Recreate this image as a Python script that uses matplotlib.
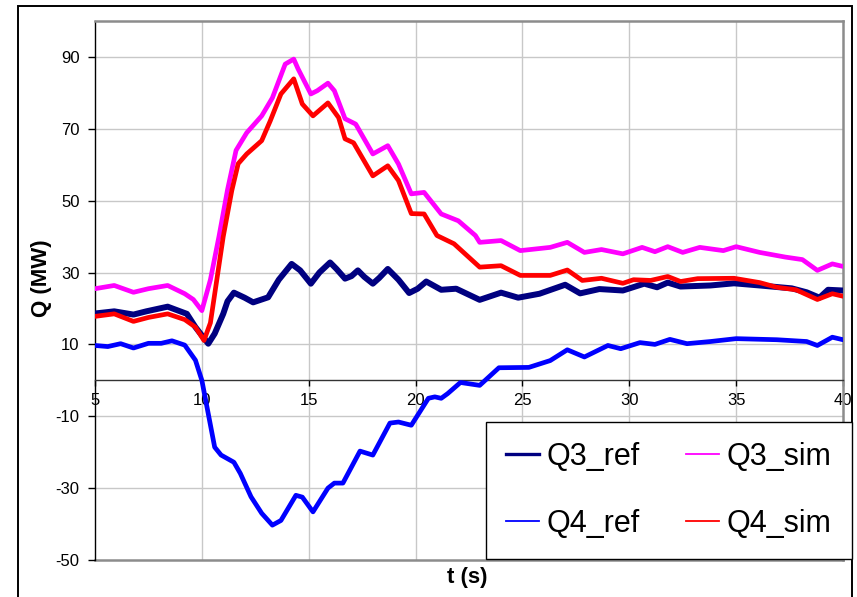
import matplotlib
matplotlib.use("Agg")
import matplotlib.pyplot as plt
from matplotlib.lines import Line2D
from matplotlib.patches import Rectangle

plt.rcParams['font.family'] = ['Liberation Sans', 'DejaVu Sans']

# Reactive power traces (time in s, Q in MW)
t_q3_ref = [5.0, 5.9, 6.8, 7.4, 8.4, 9.3, 9.7, 10.3, 10.6, 11.0, 11.2, 11.5, 12.0, 12.4,
            13.1, 13.6, 14.2, 14.6, 15.1, 15.5, 16.0, 16.3, 16.7, 17.0, 17.3, 17.6, 18.0,
            18.3, 18.7, 19.2, 19.7, 20.1, 20.5, 21.2, 21.9, 23.0, 24.0, 24.8, 25.8, 27.0,
            27.7, 28.6, 29.7, 30.7, 31.3, 31.8, 32.4, 33.8, 34.9, 36.1, 37.6, 38.3, 38.9,
            39.3, 40.0]
q3_ref = [18.6, 19.2, 18.3, 19.2, 20.5, 18.5, 14.8, 10.2, 13.0, 18.5, 22.0, 24.4, 23.0, 21.7,
          23.1, 28.0, 32.4, 30.6, 26.9, 30.0, 32.8, 31.0, 28.3, 29.0, 30.6, 28.8, 26.9,
          28.5, 31.0, 28.0, 24.3, 25.5, 27.5, 25.2, 25.5, 22.4, 24.4, 23.0, 24.1, 26.6,
          24.2, 25.4, 25.0, 26.9, 25.9, 27.2, 26.1, 26.4, 27.0, 26.4, 25.6, 24.5, 23.0,
          25.2, 25.0]

t_q4_ref = [5.0, 5.6, 6.2, 6.8, 7.5, 8.1, 8.6, 9.2, 9.7, 10.0, 10.3, 10.6, 10.9, 11.5, 11.8,
            12.3, 12.8, 13.3, 13.7, 14.4, 14.7, 15.2, 15.9, 16.2, 16.6, 17.4, 18.0, 18.8,
            19.2, 19.8, 20.6, 20.9, 21.2, 21.5, 22.1, 23.0, 23.9, 25.3, 26.3, 27.1, 27.9,
            29.0, 29.6, 30.5, 31.2, 31.9, 32.7, 33.8, 35.0, 36.9, 38.3, 38.8, 39.5, 40.0]
q4_ref = [9.7, 9.4, 10.2, 9.0, 10.3, 10.3, 11.0, 9.8, 5.6, 0.0, -9.3, -18.6, -20.8, -22.8, -25.9,
          -32.4, -37.0, -40.3, -39.0, -32.0, -32.5, -36.6, -30.0, -28.6, -28.6, -19.7, -20.8, -11.9,
          -11.6, -12.5, -5.0, -4.6, -5.0, -3.7, -0.6, -1.4, 3.5, 3.6, 5.5, 8.5, 6.5,
          9.7, 8.8, 10.5, 10.0, 11.4, 10.2, 10.8, 11.6, 11.3, 10.8, 9.7, 12.0, 11.3]

t_q3_sim = [5.0, 5.9, 6.8, 7.5, 8.4, 9.2, 9.6, 10.0, 10.4, 10.8, 11.2, 11.6, 12.1, 12.8, 13.3,
            13.9, 14.3, 14.5, 15.1, 15.4, 15.9, 16.2, 16.7, 17.2, 18.0, 18.7, 19.2, 19.8,
            20.4, 21.2, 22.0, 22.8, 23.0, 24.0, 24.9, 26.3, 27.1, 27.9, 28.7, 29.7, 30.6,
            31.2, 31.8, 32.5, 33.3, 34.4, 35.0, 36.1, 37.3, 38.1, 38.8, 39.5, 40.0]
q3_sim = [25.5, 26.4, 24.5, 25.5, 26.4, 24.1, 22.5, 19.4, 28.0, 40.0, 53.0, 64.0, 68.9, 73.6, 78.6,
          88.0, 89.4, 86.7, 79.7, 80.6, 82.7, 80.6, 72.8, 71.3, 63.0, 65.3, 60.2, 51.9,
          52.3, 46.3, 44.4, 40.3, 38.4, 38.9, 36.1, 37.0, 38.4, 35.6, 36.4, 35.2, 37.0,
          35.8, 37.2, 35.6, 37.0, 36.1, 37.2, 35.6, 34.3, 33.6, 30.6, 32.4, 31.7]

t_q4_sim = [5.0, 5.9, 6.8, 7.5, 8.4, 9.2, 9.7, 10.1, 10.4, 10.7, 11.0, 11.4, 11.7, 12.1, 12.8,
            13.2, 13.7, 14.3, 14.7, 15.2, 15.9, 16.4, 16.7, 17.1, 18.0, 18.7, 19.2, 19.8,
            20.4, 21.0, 21.8, 23.0, 24.0, 24.9, 26.3, 27.1, 27.8, 28.7, 29.7, 30.2, 31.0,
            31.8, 32.4, 33.2, 34.9, 36.1, 36.9, 37.8, 38.8, 39.5, 40.0]
q4_sim = [17.8, 18.5, 16.4, 17.5, 18.5, 16.9, 14.8, 11.1, 16.0, 28.0, 40.0, 52.8, 60.3, 63.0, 66.7,
          72.2, 79.7, 83.9, 76.9, 73.6, 77.2, 73.1, 67.2, 66.1, 56.9, 59.7, 55.6, 46.4,
          46.3, 40.3, 38.0, 31.5, 31.9, 29.2, 29.2, 30.7, 27.8, 28.4, 27.0, 28.0, 27.8,
          28.9, 27.5, 28.3, 28.4, 27.2, 25.9, 25.2, 22.5, 24.1, 23.4]

x_ticks = [5, 10, 15, 20, 25, 30, 35, 40]
y_ticks = [90, 70, 50, 30, 10, -10, -30, -50]
series_labels = ['Q3_ref', 'Q4_ref', 'Q3_sim', 'Q4_sim']

W, H = 857, 597
fig = plt.figure(figsize=(W / 100, H / 100), dpi=100)
ax = fig.add_axes([95 / W, 1 - 560 / H, (843 - 95) / W, (560 - 21) / H])

# outer chart border
fig.patches.append(Rectangle((18 / W, -0.02), (852 - 18) / W, 1 - 6 / H + 0.02,
                             transform=fig.transFigure, fill=False,
                             edgecolor='black', linewidth=1.4, zorder=0))

ax.set_xlim(5, 40)
ax.set_ylim(-50, 100)

grid_c = '#c8c8c8'
for yv in y_ticks[:-1]:
    ax.axhline(yv, color=grid_c, lw=1.0, zorder=0)
for xv in x_ticks[1:-1]:
    ax.axvline(xv, color=grid_c, lw=1.0, zorder=0)

style = dict(solid_joinstyle='round', solid_capstyle='round', zorder=3)
ax.plot(t_q3_ref, q3_ref, color='#000080', lw=4.3, **style)
ax.plot(t_q4_ref, q4_ref, color='#0000ff', lw=3.4, **style)
ax.plot(t_q3_sim, q3_sim, color='#ff00ff', lw=3.4, **style)
ax.plot(t_q4_sim, q4_sim, color='#ff0000', lw=3.4, **style)

# spines: x axis crosses at zero
ax.spines['bottom'].set_position(('data', 0))
ax.spines['bottom'].set_color('#333333')
ax.spines['bottom'].set_linewidth(1.0)
ax.spines['left'].set_color('black')
ax.spines['left'].set_linewidth(1.0)
for s in ('top', 'right'):
    ax.spines[s].set_color('#8c8c8c')
    ax.spines[s].set_linewidth(1.8)
ax.axhline(-50, color='#8c8c8c', lw=1.8, clip_on=False, zorder=1)

ax.set_xticks(x_ticks)
ax.set_xticklabels([str(v) for v in x_ticks])
ax.set_yticks(y_ticks)
ax.set_yticklabels([str(v) for v in y_ticks])
ax.tick_params(axis='x', direction='out', length=4, width=1, pad=5, labelsize=12)
ax.tick_params(axis='y', direction='out', length=5, width=1, pad=6, labelsize=12)

fig.text(42 / W, 1 - 278 / H, 'Q (MW)', rotation=90, ha='center', va='center',
         fontsize=16, fontweight='bold')
fig.text(467 / W, 1 - 577 / H, 't (s)', ha='center', va='center',
         fontsize=16, fontweight='bold')

handles = [Line2D([], [], color='#000080', lw=2.4),
           Line2D([], [], color='#0000ff', lw=1.3),
           Line2D([], [], color='#ff00ff', lw=1.3),
           Line2D([], [], color='#ff0000', lw=1.3)]
leg = fig.legend(handles, series_labels, loc='upper left', ncol=2,
                 bbox_to_anchor=(486 / W, 1 - 422 / H),
                 fontsize=22, frameon=True, fancybox=False, handlelength=1.08,
                 handletextpad=0.25, labelspacing=1.2, columnspacing=1.5,
                 borderpad=0.66, borderaxespad=0)
leg.get_frame().set_edgecolor('black')
leg.get_frame().set_linewidth(1.0)
leg.get_frame().set_alpha(1)
leg.set_zorder(10)

fig.savefig('out.png', dpi=100)
